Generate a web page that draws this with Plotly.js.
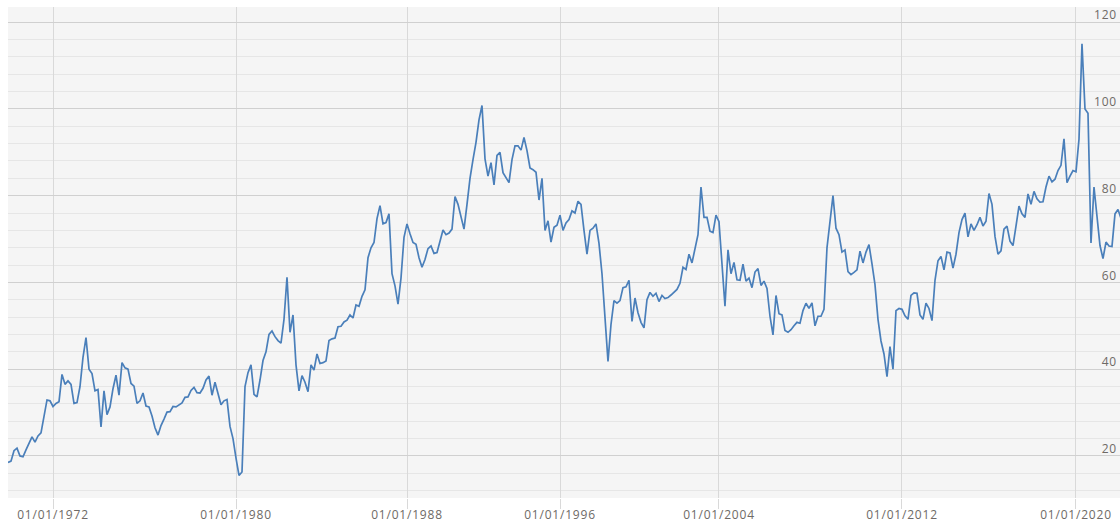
<!DOCTYPE html>
<html>
<head>
<meta charset="utf-8">
<script src="https://cdn.plot.ly/plotly-3.0.1.min.js"></script>
<style>
html,body{margin:0;padding:0;background:#fff;}
#chart{width:1120px;height:522px;}
#chart .xtick text, #chart .ytick text{letter-spacing:0.8px;}
</style>
</head>
<body>
<div id="chart"></div>
<script>
// Series values, one per observation (sampled in order along the series)
var values = [
18.5,18.8,21.2,21.8,20.0,19.8,21.4,22.8,24.4,23.2,
24.6,25.3,29.6,32.9,32.7,31.4,32.1,32.5,38.8,36.5,
37.3,36.5,32.1,32.3,36,42.7,47.3,40,39,35,
35.3,26.7,35,29.5,31.3,35.5,38.6,34,41.5,40.3,
40,36.7,36.1,32.1,32.7,34.5,31.5,31.3,29.2,26.5,
24.8,27,28.5,30.1,30.2,31.4,31.3,31.7,32.2,33.5,
33.6,35.1,35.8,34.6,34.5,35.6,37.5,38.4,34,37,
34.3,31.8,32.7,33,26.8,24,19.5,15.5,16.3,36,
39.2,41,34.2,33.6,37.5,42,44,48,48.8,47.5,
46.6,46,51.5,61.2,48.5,52.5,41,35,38.5,37,
34.8,41,39.8,43.5,41.3,41.5,41.9,46.6,47,47.2,
49.8,49.9,50.9,51.3,52.5,51.8,54.8,54.5,56.8,58.3,
65.7,68,69.2,74.7,77.7,73.5,73.8,75.8,62,59.2,
55,61,70.4,73.5,71.2,69.2,68.8,65.7,63.5,65.3,
67.8,68.4,66.7,66.9,69.5,72.1,71,71.4,72.3,79.8,
78,74.8,72.3,78,84,88.3,92.3,97.5,100.8,88.5,
84.5,87.6,82.5,89.3,90,85.3,84,83,88.3,91.5,
91.5,90.5,93.4,90.4,86.4,86,85.4,79,84,72,
74.2,69.3,72.7,73.2,75.5,72,73.7,74.5,76.5,76,
78.7,78,72,66.5,72,72.5,73.5,69,62,51,
41.8,50.3,55.8,55.2,55.8,58.8,59,60.5,51,56.4,
53,50.8,49.5,56,57.7,56.8,57.5,55.6,57,56.3,
56.5,57.1,57.8,58.4,59.8,63.5,63,66.5,64.5,67.5,
71,82,75,75,71.8,71.5,75.5,74,64,54.5,
67.5,62,64.6,60.6,60.5,64.2,60.3,61,58.8,62.4,
63.2,59.3,60.3,58.6,52.2,47.9,57,52.8,52.5,48.9,
48.5,49.1,50,50.8,50.6,53.5,55.2,54,55.3,50,
52.2,52.2,53.8,68,74,80,72.5,71,67,67.5,
62.5,61.8,62.3,62.9,67.2,64.5,67,68.7,64.3,59.5,
51.5,46.5,43.5,38.3,45.2,40,53.5,54,53.8,52.3,
51.5,57,57.6,57.5,52.5,51.5,55.2,54,51.2,60.5,
65,66,62.9,67,66.8,63.3,66.5,71.5,74.5,76,
70.5,73.5,72,73.3,75,73,74.1,80.5,78,70.6,
66.5,67.3,72.3,73,69.5,68.5,73,77.6,75.8,75,
80.4,78,81,79.3,78.5,78.6,82,84.5,83.2,83.8,
85.8,87,93.1,83,84.5,85.8,85.5,93,115,100,
99,69.1,82,75,68.5,65.5,69.3,68.4,68.3,75.8,
76.8,74.8
];

// Observation number at which each date label falls
var tickIndex = [15, 76, 133, 184, 237, 298, 356];
var tickLabels = ["01/01/1972","01/01/1980","01/01/1988","01/01/1996","01/01/2004","01/01/2012","01/01/2020"];

var yTicks = [20, 40, 60, 80, 100, 120];

var trace = {
  y: values,
  type: 'scatter',
  mode: 'lines',
  line: {color: '#4a7fba', width: 1.7},
  hoverinfo: 'y'
};

var layout = {
  width: 1120,
  height: 522,
  margin: {l: 8, r: 0, t: 7, b: 24},
  paper_bgcolor: '#ffffff',
  plot_bgcolor: '#f5f5f5',
  showlegend: false,
  font: {family: '"Open Sans", sans-serif', size: 12, color: '#6e6a66'},
  xaxis: {
    range: [0, 370.67],
    tickmode: 'array',
    tickvals: tickIndex,
    ticktext: tickLabels,
    showgrid: true,
    gridcolor: '#d9d9d9',
    gridwidth: 1,
    zeroline: false,
    showline: false,
    ticks: 'outside',
    ticklen: 10,
    tickcolor: '#d9d9d9',
    tickwidth: 1,
    ticklabelstandoff: -4,
    tickfont: {size: 12, color: '#6e6a66'}
  },
  yaxis: {
    range: [10.3, 123.5],
    side: 'right',
    tickmode: 'array',
    tickvals: yTicks,
    ticklabelposition: 'inside',
    ticklabeloverflow: 'allow',
    ticklabelshift: -7,
    ticklabelstandoff: 0,
    showgrid: true,
    gridcolor: '#d0d0d0',
    gridwidth: 1,
    zeroline: false,
    showline: false,
    ticks: '',
    tickfont: {size: 12, color: '#6e6a66'},
    minor: {dtick: 4, tick0: 0, showgrid: true, gridcolor: '#e6e6e6', gridwidth: 1}
  }
};

Plotly.newPlot('chart', [trace], layout, {displayModeBar: false, staticPlot: true});
</script>
</body>
</html>
